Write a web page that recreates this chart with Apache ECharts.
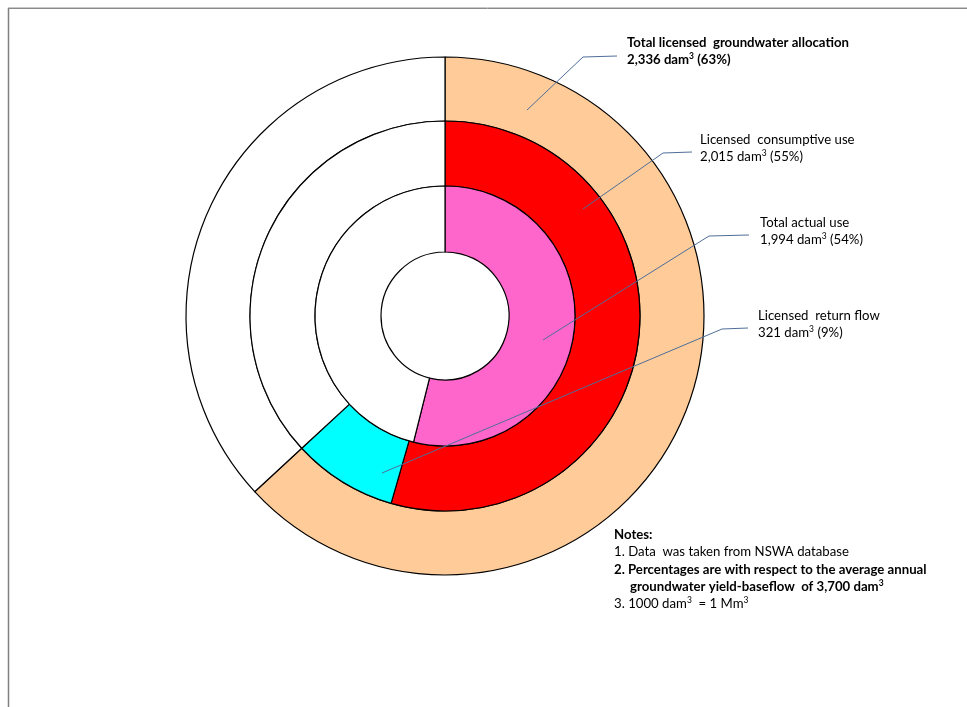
<!DOCTYPE html>
<html><head><meta charset="utf-8">
<script src="https://cdn.jsdelivr.net/npm/echarts@6/dist/echarts.min.js"></script>
<style>html,body{margin:0;padding:0;background:#fff}#c{width:967px;height:707px}</style>
</head><body><div id="c"></div>
<script>
// Data (dam³)
const totalYield = 3700;
const outerNames = ['Total licensed groundwater allocation', 'Unallocated'];
const outerValues = [2336, 3700 - 2336];
const middleNames = ['Licensed consumptive use', 'Licensed return flow', 'Remainder'];
const middleValues = [2015, 321, 3700 - 2015 - 321];
const innerNames = ['Total actual use', 'Remainder'];
const innerValues = [1994, 3700 - 1994];
const outerColors = ['#FFCC99', '#FFFFFF'];
const middleColors = ['#FF0000', '#00FFFF', '#FFFFFF'];
const innerColors = ['#FF66CC', '#FFFFFF'];
const labelTexts = [
  ['Total licensed  groundwater allocation', '2,336 dam{s|3} (63%)'],
  ['Licensed  consumptive use', '2,015 dam{s|3} (55%)'],
  ['Total actual use', '1,994 dam{s|3} (54%)'],
  ['Licensed  return flow', '321 dam{s|3} (9%)']
];
const notes = [
  ['Notes:', true, 0],
  ['1. Data  was taken from NSWA database', false, 0],
  ['2. Percentages are with respect to the average annual', true, 0],
  ['groundwater yield-baseflow  of 3,700 dam{s|3}', true, 16],
  ['3. 1000 dam{s|3}  = 1 Mm{s|3}', false, 0]
];

const FONT = 'Lato, "Liberation Sans", sans-serif';
const FS = 13.2;
function ring(names, values, colors, r) {
  return {
    type: 'pie', center: [445, 316], radius: r, startAngle: 90, clockwise: true,
    silent: true, animation: false, label: {show: false}, labelLine: {show: false},
    emphasis: {disabled: true},
    itemStyle: {borderColor: '#000', borderWidth: 1.2},
    data: names.map((n, i) => ({name: n, value: values[i], itemStyle: {color: colors[i]}}))
  };
}
const lineColor = '#4F6E9A';
const leaders = [
  [[527,110],[583,57],[617,56]],
  [[583,209],[663,153],[692,152]],
  [[543,340],[709,236],[749,235]],
  [[382,473],[722,329],[748,328]]
];
const labelPos = [[627,43,true],[700,140,false],[760,223,false],[758,316,false]];
const graphic = [
  {type:'line', shape:{x1:8,y1:7.5,x2:967,y2:7.5}, style:{stroke:'#c8c8c8', lineWidth:1}},
  {type:'line', shape:{x1:8,y1:8.5,x2:967,y2:8.5}, style:{stroke:'#8a8a8a', lineWidth:1}},
  {type:'line', shape:{x1:8.5,y1:8,x2:8.5,y2:707}, style:{stroke:'#808080', lineWidth:1.5}}
];
function txt(x, y, s, bold) {
  const w = bold ? 'bold' : 'normal';
  return {type:'text', z:10, x: x, y: y, style:{
    text: s, fontFamily: FONT, fontSize: FS, fontWeight: w, fill:'#000',
    textVerticalAlign:'middle', lineHeight: 16,
    rich: {s: {fontFamily: FONT, fontSize: 8.5, fontWeight: w, fill:'#000', verticalAlign:'top', lineHeight: 16, padding:[0,0,5,0]}}
  }};
}
leaders.forEach(p => graphic.push({type:'polyline', z:10, shape:{points:p}, style:{stroke:lineColor, lineWidth:1, fill:null}}));
labelTexts.forEach((t, i) => {
  const [x, y, bold] = labelPos[i];
  t.forEach((s, j) => graphic.push(txt(x, y + j*17, s, bold)));
});
notes.forEach((n, i) => graphic.push(txt(614 + n[2], 535 + i*17.2, n[0], n[1])));

const chart = echarts.init(document.getElementById('c'), null, {renderer:'canvas'});
chart.setOption({
  backgroundColor: '#fff',
  animation: false,
  series: [
    ring(outerNames, outerValues, outerColors, [195, 259]),
    ring(middleNames, middleValues, middleColors, [130, 195]),
    ring(innerNames, innerValues, innerColors, [64, 130])
  ],
  graphic: graphic
});
</script></body></html>
